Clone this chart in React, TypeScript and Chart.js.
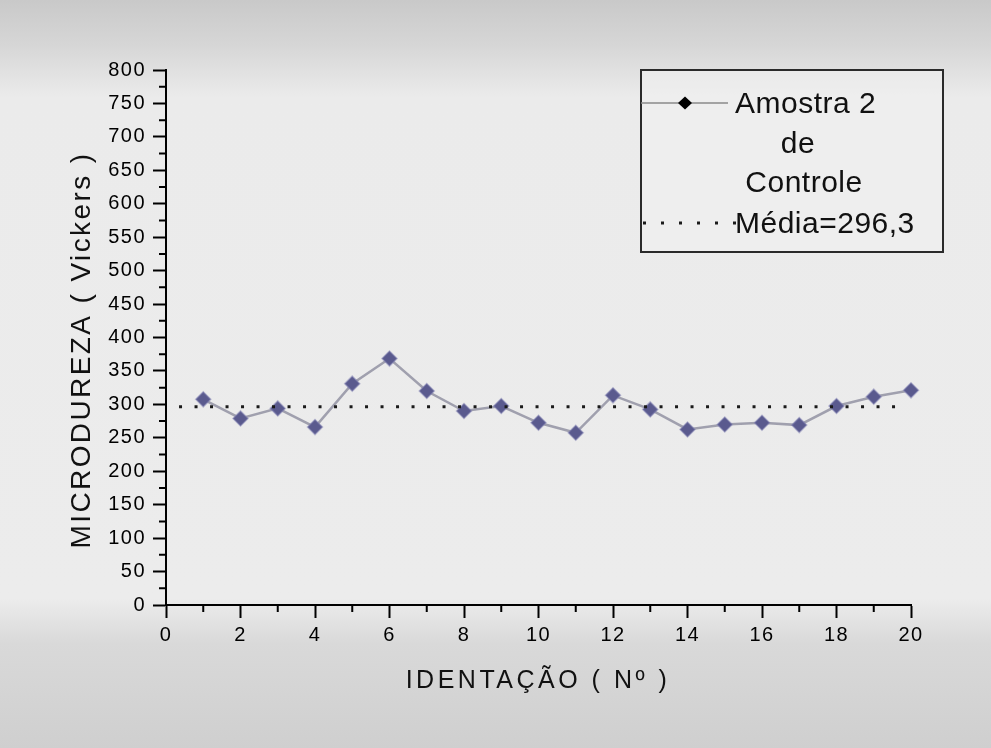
import React, { useEffect, useRef } from "react";
import { Chart, registerables } from "chart.js";

Chart.register(...registerables);

// Indentation number and measured Vickers microhardness for sample 2 (control)
const indentations = [1, 2, 3, 4, 5, 6, 7, 8, 9, 10, 11, 12, 13, 14, 15, 16, 17, 18, 19, 20];
const hardness = [
  307.5, 279, 294, 266, 331, 368.5, 320, 290, 297.5, 272.5,
  257.5, 313.5, 292.5, 262.5, 270, 272.5, 269, 297.5, 311.5, 321,
];

// Average hardness and the x-range the average line covers
const meanHardness = 296.3;
const meanSpan = [0.35, 19.65];

// Minor tick positions (unlabelled)
const xMinorTicks = [1, 3, 5, 7, 9, 11, 13, 15, 17, 19];
const yMinorTicks = [25, 75, 125, 175, 225, 275, 325, 375, 425, 475, 525, 575, 625, 675, 725, 775];

// Texts
const seriesLegend = ["Amostra 2", "de", "Controle"];
const meanLegend = "Média=" + meanHardness.toFixed(1).replace(".", ",");
const xTitle = "IDENTAÇÃO ( Nº )";
const yTitle = "MICRODUREZA ( Vickers )";

const FONT = '"Liberation Sans", Arial, Helvetica, sans-serif';

const decorPlugin = {
  id: "decor",
  beforeDraw(chart: any) {
    const { ctx, width, height } = chart;
    ctx.save();
    // grey paper: darker bands at the top and bottom, light in the middle
    const g = ctx.createLinearGradient(0, 0, 0, height);
    g.addColorStop(0, "#c9c9c9");
    g.addColorStop(0.06, "#d6d6d6");
    g.addColorStop(0.13, "#ebebeb");
    g.addColorStop(0.8, "#ececec");
    g.addColorStop(0.86, "#d9d9d9");
    g.addColorStop(1, "#cfcfcf");
    ctx.fillStyle = g;
    ctx.fillRect(0, 0, width, height);
    ctx.restore();
    ctx.letterSpacing = "1.5px";
  },
  afterDraw(chart: any) {
    const { ctx, chartArea } = chart;
    const xs = chart.scales.x;
    const ys = chart.scales.y;
    ctx.save();
    ctx.letterSpacing = "0px";

    // minor ticks
    ctx.strokeStyle = "#000";
    ctx.lineWidth = 2;
    ctx.beginPath();
    for (const v of xMinorTicks) {
      const px = xs.getPixelForValue(v);
      ctx.moveTo(px, chartArea.bottom);
      ctx.lineTo(px, chartArea.bottom + 7);
    }
    for (const v of yMinorTicks) {
      const py = ys.getPixelForValue(v);
      ctx.moveTo(chartArea.left - 7, py);
      ctx.lineTo(chartArea.left, py);
    }
    ctx.stroke();

    // axis titles
    ctx.fillStyle = "#111";
    ctx.textBaseline = "alphabetic";
    ctx.textAlign = "center";
    ctx.font = `25px ${FONT}`;
    ctx.letterSpacing = "3.5px";
    ctx.fillText(xTitle, 538, 688);

    ctx.save();
    ctx.translate(90, 350);
    ctx.rotate(-Math.PI / 2);
    ctx.font = `28px ${FONT}`;
    ctx.letterSpacing = "2.4px";
    ctx.fillText(yTitle, 0, 0);
    ctx.restore();

    // legend box
    ctx.letterSpacing = "0px";
    ctx.fillStyle = "rgba(240,240,240,0.6)";
    ctx.fillRect(641, 70, 302, 182);
    ctx.strokeStyle = "#2a2a2a";
    ctx.lineWidth = 2;
    ctx.strokeRect(641, 70, 302, 182);

    // series sample: line with diamond
    ctx.strokeStyle = "#8a8a8a";
    ctx.lineWidth = 1.5;
    ctx.beginPath();
    ctx.moveTo(641, 103);
    ctx.lineTo(728, 103);
    ctx.stroke();
    ctx.fillStyle = "#000";
    ctx.beginPath();
    ctx.moveTo(685 - 7, 103);
    ctx.lineTo(685, 103 - 6.5);
    ctx.lineTo(685 + 7, 103);
    ctx.lineTo(685, 103 + 6.5);
    ctx.closePath();
    ctx.fill();

    // mean sample: dotted line
    ctx.strokeStyle = "#1a1a1a";
    ctx.lineWidth = 3;
    ctx.setLineDash([3, 15]);
    ctx.beginPath();
    ctx.moveTo(643, 223);
    ctx.lineTo(736, 223);
    ctx.stroke();
    ctx.setLineDash([]);

    // legend texts
    ctx.fillStyle = "#111";
    ctx.font = `30px ${FONT}`;
    ctx.letterSpacing = "0.5px";
    ctx.textAlign = "left";
    ctx.fillText(seriesLegend[0], 735, 113);
    ctx.textAlign = "center";
    ctx.fillText(seriesLegend[1], 798, 153);
    ctx.fillText(seriesLegend[2], 804, 192);
    ctx.textAlign = "left";
    ctx.fillText(meanLegend, 735, 233);

    ctx.restore();
    ctx.letterSpacing = "0px";
  },
};

export default function App() {
  const canvasRef = useRef<HTMLCanvasElement | null>(null);

  useEffect(() => {
    const canvas = canvasRef.current;
    if (!canvas) return;

    const chart = new Chart(canvas, {
      type: "line",
      data: {
        datasets: [
          {
            label: meanLegend,
            data: meanSpan.map((x) => ({ x, y: meanHardness })),
            borderColor: "#1a1a1a",
            borderWidth: 3,
            borderDash: [3, 12.5],
            borderCapStyle: "butt",
            pointRadius: 0,
            fill: false,
            clip: false,
          },
          {
            label: seriesLegend.join(" "),
            data: indentations.map((x, i) => ({ x, y: hardness[i] })),
            borderColor: "#a0a0ae",
            borderWidth: 2.5,
            tension: 0,
            pointStyle: "rectRot",
            pointRadius: 7.5,
            pointBackgroundColor: "#5a5a8e",
            pointBorderColor: "rgba(130,130,180,0.5)",
            pointBorderWidth: 1.5,
            fill: false,
            clip: false,
          },
        ],
      },
      options: {
        responsive: false,
        animation: false,
        events: [],
        layout: { padding: { left: 0, top: 70, right: 80, bottom: 0 } },
        plugins: {
          legend: { display: false },
          tooltip: { enabled: false },
        },
        scales: {
          x: {
            type: "linear",
            min: 0,
            max: 20,
            afterFit: (s: any) => {
              s.height = 143;
            },
            ticks: {
              stepSize: 2,
              padding: 5,
              color: "#000",
              font: { family: FONT, size: 20 },
            },
            grid: {
              drawOnChartArea: false,
              drawTicks: true,
              tickLength: 13,
              tickColor: "#000",
              tickWidth: 2,
            },
            border: { display: true, color: "#000", width: 2 },
          },
          y: {
            type: "linear",
            min: 0,
            max: 800,
            afterFit: (s: any) => {
              s.width = 166;
            },
            ticks: {
              stepSize: 50,
              padding: 7,
              color: "#000",
              font: { family: FONT, size: 20 },
            },
            grid: {
              drawOnChartArea: false,
              drawTicks: true,
              tickLength: 13,
              tickColor: "#000",
              tickWidth: 2,
            },
            border: { display: true, color: "#000", width: 2 },
          },
        },
      },
      plugins: [decorPlugin],
    });

    return () => chart.destroy();
  }, []);

  return (
    <div style={{ position: "absolute", left: 0, top: 0, width: 991, height: 748 }}>
      <canvas ref={canvasRef} width={991} height={748} style={{ display: "block" }} />
    </div>
  );
}
